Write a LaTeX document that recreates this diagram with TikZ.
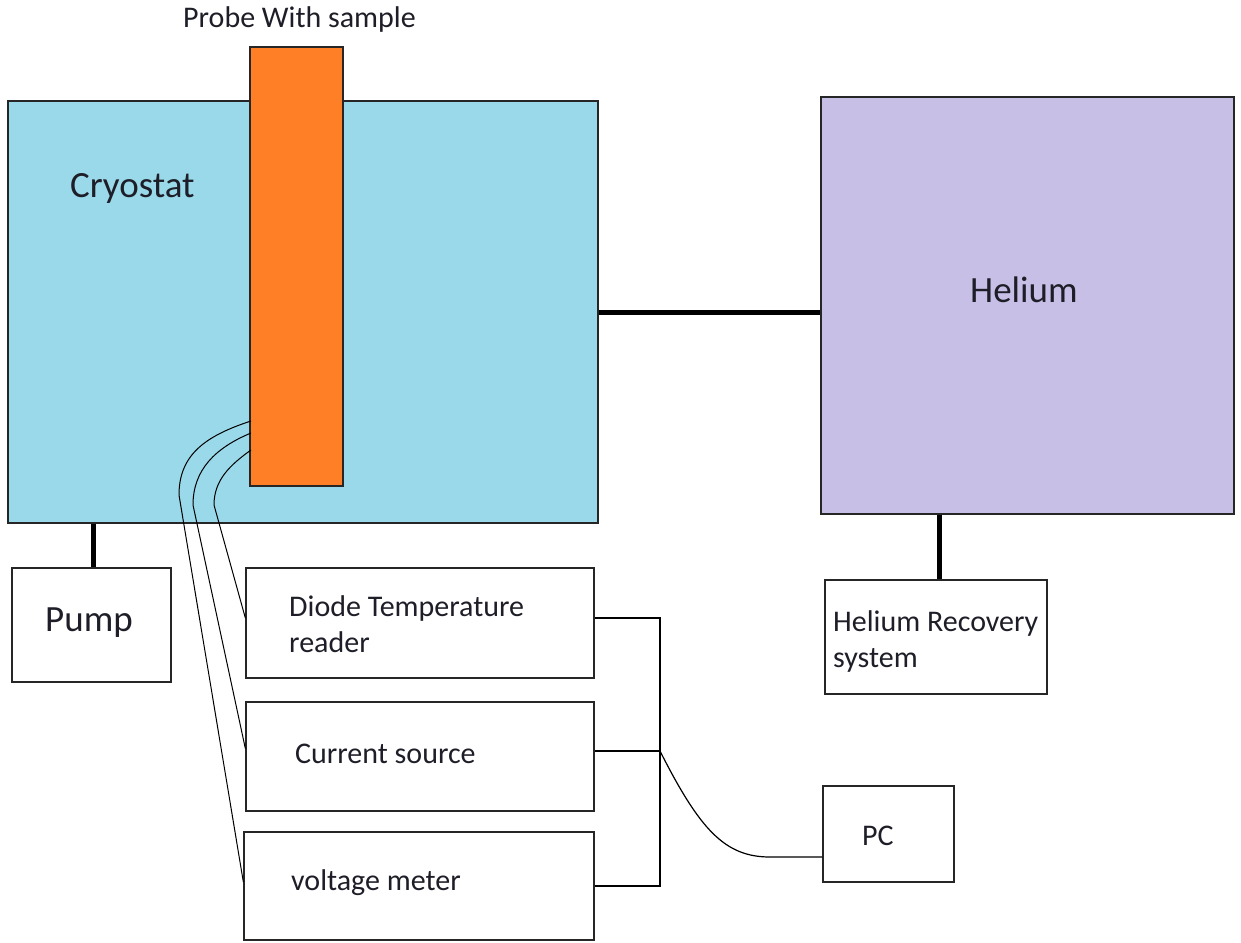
\documentclass[tikz,border=0pt]{standalone}
\usepackage{fontspec}
\setmainfont{Carlito}
\definecolor{cryo}{RGB}{153,217,234}
\definecolor{probec}{RGB}{255,127,39}
\definecolor{helc}{RGB}{200,191,231}
\definecolor{txt}{RGB}{30,30,40}
\begin{document}
\begin{tikzpicture}[x=1pt,y=-1pt,
  box/.style={draw=black!85,line width=1.3pt,rectangle,inner sep=0pt},
  big/.style={font=\fontsize{37}{44}\selectfont,text=txt,inner sep=0pt},
  small/.style={font=\fontsize{30}{36}\selectfont,text=txt,inner sep=0pt},
  thick link/.style={line width=5pt},
  wire/.style={line width=1pt},
  bus/.style={line width=1.2pt}]
\useasboundingbox (0,0) rectangle (1241,942);
% main vessels
\node[box,fill=cryo,minimum width=590pt,minimum height=422pt] (cryo) at (303,312) {};
\node[box,fill=probec,minimum width=93pt,minimum height=439pt] (probe) at (296.5,266.5) {};
\node[box,fill=helc,minimum width=413pt,minimum height=417pt] (hel) at (1027.5,305.5) {};
% lower boxes
\node[box,minimum width=159pt,minimum height=114pt] (pump) at (91.5,625) {};
\node[box,minimum width=222pt,minimum height=114pt] (rec) at (936,637) {};
\node[box,minimum width=348pt,minimum height=110pt] (diode) at (420,623) {};
\node[box,minimum width=348pt,minimum height=109pt] (cur) at (420,756.5) {};
\node[box,minimum width=350pt,minimum height=108pt] (volt) at (419,886) {};
\node[box,minimum width=131pt,minimum height=96pt] (pc) at (888.5,834) {};
% labels
\node[small,anchor=west] (lprobe) at (183,20) {Probe With sample};
\node[big,anchor=west] (lcryo) at (70,188) {Cryostat};
\node[big,anchor=west] (lhel) at (970,290) {Helium};
\node[big,anchor=west] (lpump) at (45,623) {Pump};
\node[small,anchor=north west,align=left] (ldiode) at (289,595) {Diode Temperature\\reader};
\node[small,anchor=west] (lcur) at (295,754) {Current source};
\node[small,anchor=west] (lvolt) at (291,883) {voltage meter};
\node[small,anchor=west] (lpc) at (862,836) {PC};
\node[small,anchor=north west,align=left] (lrec) at (833,610) {Helium Recovery\\system};
% thick links
\draw[thick link] (cryo.east) -- (hel.west |- cryo.east);
\draw[thick link] ([xshift=-210pt]cryo.south) -- ([xshift=1.5pt]pump.north);
\draw[thick link] ([xshift=-88.5pt]hel.south) -- ([xshift=3pt]rec.north);
% wires from probe
\coordinate (w1) at (251,421);
\coordinate (w2) at (251,433);
\coordinate (w3) at (251,450);
\draw[wire] (w1) .. controls (205,436) and (179,455) .. (179,495) -- ([yshift=4pt]volt.west);
\draw[wire] (w2) .. controls (215,448) and (193,470) .. (193,505) -- ([yshift=8pt]cur.west);
\draw[wire] (w3) .. controls (230,465) and (214,480) .. (214,505) -- ([yshift=5pt]diode.west);
% bus to PC
\coordinate (jtop) at (660,618);
\coordinate (jmid) at (660,751);
\coordinate (jbot) at (660,886);
\draw[bus] ([yshift=5pt]diode.east) -- (jtop) -- (jbot) -- (volt.east);
\draw[bus] ([yshift=5.5pt]cur.east) -- (jmid);
\draw[bus] (jmid) .. controls (700,830) and (725,857) .. (770,857) -- ([yshift=-23pt]pc.west);
\end{tikzpicture}
\end{document}
